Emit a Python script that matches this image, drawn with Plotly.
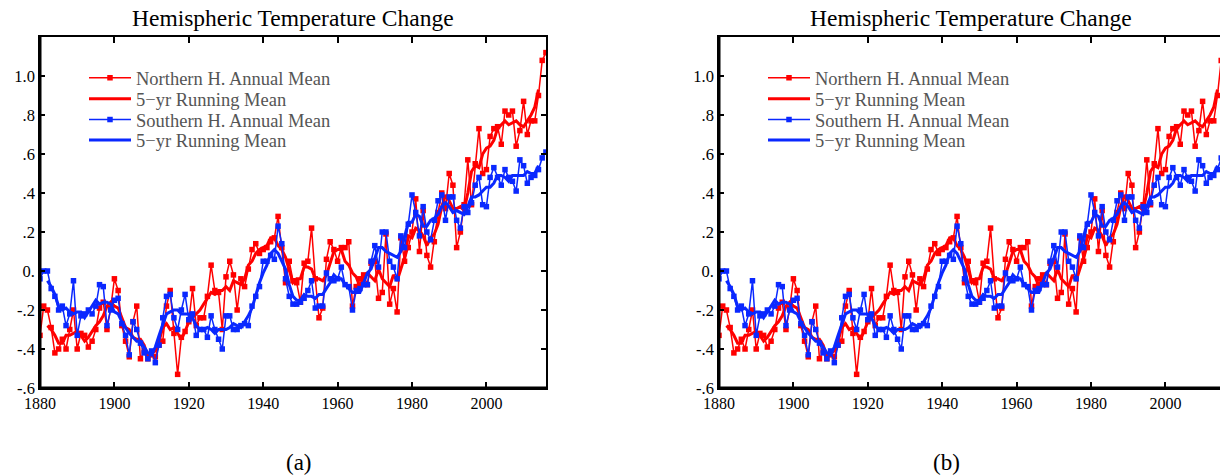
import plotly.graph_objects as go

W, H = 1220, 475

YEARS = list(range(1880, 2017))
RUN_YEARS = list(range(1882, 2015))

NH_ANNUAL = [
    -0.33, -0.18, -0.20, -0.29, -0.42, -0.40, -0.35, -0.40, -0.30, -0.20,
    -0.40, -0.32, -0.33, -0.39, -0.36, -0.30, -0.19, -0.16, -0.30, -0.19,
    -0.04, -0.10, -0.28, -0.36, -0.44, -0.26, -0.18, -0.45, -0.41, -0.45,
    -0.43, -0.44, -0.38, -0.36, -0.18, -0.10, -0.32, -0.53, -0.34, -0.31,
    -0.26, -0.09, -0.28, -0.24, -0.24, -0.13, 0.03, -0.10, -0.11, -0.30,
    -0.03, 0.05, -0.02, -0.20, -0.04, -0.08, 0.01, 0.11, 0.14, 0.09,
    0.11, 0.12, 0.15, 0.17, 0.28, 0.12, -0.06, 0.05, -0.05, -0.06,
    -0.16, 0.04, 0.05, 0.22, -0.04, -0.24, -0.19, 0.06, 0.15, 0.11,
    0.05, 0.12, 0.12, 0.15, -0.18, -0.08, -0.04, -0.02, -0.07, 0.04,
    0.05, -0.14, -0.11, 0.19, -0.17, -0.09, -0.21, 0.17, 0.05, 0.12,
    0.20, 0.37, 0.10, 0.31, 0.08, 0.02, 0.15, 0.30, 0.40, 0.32,
    0.50, 0.44, 0.12, 0.20, 0.34, 0.57, 0.34, 0.55, 0.73, 0.50,
    0.52, 0.69, 0.73, 0.74, 0.65, 0.82, 0.80, 0.82, 0.64, 0.72,
    0.87, 0.70, 0.77, 0.77, 0.90, 1.08, 1.12,
]

NH_RUNNING = [
    -0.28, -0.30, -0.33, -0.37, -0.37, -0.33, -0.33, -0.32, -0.31, -0.33,
    -0.36, -0.34, -0.31, -0.28, -0.26, -0.23, -0.18, -0.16, -0.18, -0.19,
    -0.24, -0.29, -0.30, -0.34, -0.35, -0.35, -0.38, -0.44, -0.42, -0.41,
    -0.36, -0.29, -0.27, -0.30, -0.29, -0.32, -0.35, -0.31, -0.26, -0.24,
    -0.22, -0.20, -0.17, -0.14, -0.11, -0.12, -0.10, -0.10, -0.08, -0.10,
    -0.05, -0.06, -0.07, -0.04, 0.03, 0.05, 0.09, 0.11, 0.12, 0.13,
    0.17, 0.17, 0.13, 0.11, 0.07, 0.00, -0.06, -0.04, -0.04, 0.02,
    0.02, 0.01, -0.04, -0.04, -0.05, -0.02, 0.04, 0.10, 0.11, 0.11,
    0.05, 0.03, -0.01, -0.03, -0.08, -0.03, -0.01, -0.03, -0.05, 0.01,
    -0.04, -0.06, -0.08, -0.02, -0.05, 0.01, 0.07, 0.18, 0.17, 0.22,
    0.21, 0.18, 0.13, 0.17, 0.19, 0.24, 0.33, 0.39, 0.36, 0.32,
    0.32, 0.33, 0.31, 0.40, 0.51, 0.54, 0.53, 0.60, 0.63, 0.64,
    0.67, 0.73, 0.75, 0.77, 0.75, 0.76, 0.77, 0.75, 0.74, 0.77,
    0.80, 0.84, 0.93,
]

SH_ANNUAL = [
    -0.04, 0.00, 0.00, -0.09, -0.13, -0.20, -0.18, -0.28, -0.22, -0.05,
    -0.33, -0.23, -0.22, -0.20, -0.22, -0.18, -0.07, -0.08, -0.28, -0.20,
    -0.15, -0.14, -0.27, -0.33, -0.43, -0.26, -0.30, -0.37, -0.42, -0.45,
    -0.41, -0.47, -0.38, -0.24, -0.13, -0.12, -0.24, -0.30, -0.20, -0.12,
    -0.25, -0.22, -0.33, -0.30, -0.30, -0.34, -0.23, -0.30, -0.35, -0.40,
    -0.23, -0.23, -0.30, -0.30, -0.28, -0.27, -0.28, -0.18, -0.13, -0.08,
    0.05, 0.05, 0.08, 0.06, 0.23, 0.14, -0.04, -0.13, -0.17, -0.17,
    -0.16, -0.14, -0.10, -0.05, -0.19, -0.18, -0.18, -0.01, -0.04, -0.05,
    -0.04, 0.02, -0.07, -0.08, -0.20, -0.10, -0.09, -0.07, -0.07, 0.05,
    0.13, 0.02, 0.20, 0.20, 0.05, 0.02, -0.04, 0.18, 0.12, 0.24,
    0.39, 0.30, 0.18, 0.33, 0.20, 0.16, 0.26, 0.36, 0.39, 0.26,
    0.38, 0.38, 0.26, 0.22, 0.33, 0.30, 0.35, 0.44, 0.48, 0.34,
    0.33, 0.48, 0.53, 0.48, 0.44, 0.52, 0.48, 0.46, 0.41, 0.57,
    0.54, 0.45, 0.48, 0.49, 0.52, 0.58, 0.61,
]

SH_RUNNING = [
    -0.05, -0.08, -0.12, -0.18, -0.20, -0.19, -0.21, -0.22, -0.21, -0.21,
    -0.24, -0.21, -0.18, -0.15, -0.17, -0.16, -0.16, -0.17, -0.21, -0.22,
    -0.26, -0.29, -0.32, -0.34, -0.36, -0.36, -0.39, -0.42, -0.43, -0.39,
    -0.33, -0.27, -0.22, -0.21, -0.20, -0.20, -0.22, -0.22, -0.22, -0.24,
    -0.28, -0.30, -0.30, -0.29, -0.30, -0.32, -0.30, -0.30, -0.30, -0.29,
    -0.27, -0.28, -0.29, -0.26, -0.23, -0.19, -0.12, -0.06, -0.01, 0.03,
    0.09, 0.11, 0.09, 0.05, 0.01, -0.07, -0.13, -0.15, -0.15, -0.12,
    -0.13, -0.13, -0.14, -0.12, -0.12, -0.09, -0.06, -0.02, -0.04, -0.04,
    -0.07, -0.09, -0.11, -0.11, -0.11, -0.06, -0.01, 0.01, 0.07, 0.12,
    0.12, 0.10, 0.09, 0.08, 0.07, 0.10, 0.18, 0.25, 0.25, 0.29,
    0.28, 0.23, 0.23, 0.26, 0.27, 0.29, 0.33, 0.35, 0.33, 0.30,
    0.31, 0.30, 0.29, 0.33, 0.38, 0.38, 0.39, 0.41, 0.43, 0.43,
    0.45, 0.49, 0.49, 0.48, 0.46, 0.49, 0.49, 0.49, 0.49, 0.51,
    0.50, 0.50, 0.54,
]

X_TICKS = [1880, 1900, 1920, 1940, 1960, 1980, 2000]
X_TICK_TEXT = ["1880", "1900", "1920", "1940", "1960", "1980", "2000"]
Y_TICKS = [-0.6, -0.4, -0.2, 0.0, 0.2, 0.4, 0.6, 0.8, 1.0]
Y_TICK_TEXT = ["-.6", "-.4", "-.2", "0.", ".2", ".4", ".6", ".8", "1.0"]

TITLE = "Hemispheric Temperature Change"
NAMES = ["Northern H. Annual Mean", "5\u2212yr Running Mean",
         "Southern H. Annual Mean", "5\u2212yr Running Mean"]
CAPTIONS = ["(a)", "(b)"]

RED = "#ff0000"
BLUE = "#0a28ff"
SERIF = "Liberation Serif, Times New Roman, serif"

# pixel geometry
PX_PER_YEAR = 3.72
Y_TOP, Y_BOT = 37, 388
PANELS = [
    dict(left=40, right=546),
    dict(left=719, right=1220),
]
LEGEND_ROWS = [78.3, 99.2, 120.0, 140.5]

fig = go.Figure()

layout = dict(
    width=W, height=H,
    margin=dict(l=0, r=0, t=0, b=0, pad=0, autoexpand=False),
    paper_bgcolor="white", plot_bgcolor="white",
    showlegend=True,
)

leg_i = 0
for i, p in enumerate(PANELS):
    s = "" if i == 0 else str(i + 1)
    xa = "x" + s
    ya = "y" + s
    series = [
        (YEARS, NH_ANNUAL, RED, "annual", NAMES[0]),
        (RUN_YEARS, NH_RUNNING, RED, "run", NAMES[1]),
        (YEARS, SH_ANNUAL, BLUE, "annual", NAMES[2]),
        (RUN_YEARS, SH_RUNNING, BLUE, "run", NAMES[3]),
    ]
    for row, (xs, ys, col, kind, name) in enumerate(series):
        leg_i += 1
        lname = "legend" if leg_i == 1 else "legend%d" % leg_i
        if kind == "annual":
            fig.add_trace(go.Scatter(
                x=xs, y=ys, name=name, xaxis=xa, yaxis=ya, legend=lname,
                mode="lines+markers",
                line=dict(color=col, width=1.5),
                marker=dict(symbol="square", size=5.5, color=col),
            ))
        else:
            fig.add_trace(go.Scatter(
                x=xs, y=ys, name=name, xaxis=xa, yaxis=ya, legend=lname,
                mode="lines",
                line=dict(color=col, width=3),
            ))
        layout[lname] = dict(
            x=(p["left"] + 44) / W, y=1 - LEGEND_ROWS[row] / H,
            xanchor="left", yanchor="middle",
            bgcolor="rgba(0,0,0,0)", borderwidth=0,
            font=dict(family=SERIF, size=18.5, color="#555555"),
            itemwidth=42, tracegroupgap=0,
        )

    xdom = [p["left"] / W, min(p["right"] / W, 1.0)]
    ydom = [1 - Y_BOT / H, 1 - Y_TOP / H]
    xmax = 1880 + (min(p["right"], W) - p["left"]) / PX_PER_YEAR
    layout["xaxis" + s] = dict(
        domain=xdom, range=[1880, xmax], anchor="y" + s, automargin=False,
        tickvals=X_TICKS, ticktext=X_TICK_TEXT,
        ticks="inside", ticklen=6, tickwidth=1.5, tickcolor="black",
        showline=True, linecolor="black", linewidth=1.5, mirror="ticks",
        showgrid=False, zeroline=False,
        tickfont=dict(family=SERIF, size=16, color="black"),
    )
    layout["yaxis" + s] = dict(
        domain=ydom, range=[-0.6, 1.2], anchor="x" + s, automargin=False,
        tickvals=Y_TICKS, ticktext=Y_TICK_TEXT,
        ticks="inside", ticklen=5, tickwidth=1.5, tickcolor="black",
        showline=True, linecolor="black", linewidth=1.5,
        mirror=("ticks" if i == 0 else False),
        showgrid=False, zeroline=False,
        tickfont=dict(family=SERIF, size=16.5, color="black"),
    )

fig.update_layout(**layout)

shapes = []
annotations = []
for i, p in enumerate(PANELS):
    s = "" if i == 0 else str(i + 1)
    xr = "x" + s + " domain"
    yr = "y" + s + " domain"
    shapes.append(dict(type="line", xref=xr, yref=yr, x0=0, x1=0, y0=0, y1=1,
                       line=dict(color="black", width=3)))
    shapes.append(dict(type="line", xref=xr, yref=yr, x0=0, x1=1, y0=0, y1=0,
                       line=dict(color="black", width=3)))
title_x = [293, 971]
for cx in title_x:
    annotations.append(dict(
        text=TITLE, xref="paper", yref="paper", x=cx / W, y=1 - 18 / H,
        xanchor="center", yanchor="middle", showarrow=False,
        font=dict(family=SERIF, size=23.5, color="black"),
    ))
cap_x = [299, 946]
for cx, cap in zip(cap_x, CAPTIONS):
    annotations.append(dict(
        text=cap, xref="paper", yref="paper", x=cx / W, y=1 - 462 / H,
        xanchor="center", yanchor="middle", showarrow=False,
        font=dict(family=SERIF, size=23, color="black"),
    ))

fig.update_layout(shapes=shapes, annotations=annotations)

fig.write_html("out.html", config={"displayModeBar": False},
               post_script="document.body.style.margin='0';")
